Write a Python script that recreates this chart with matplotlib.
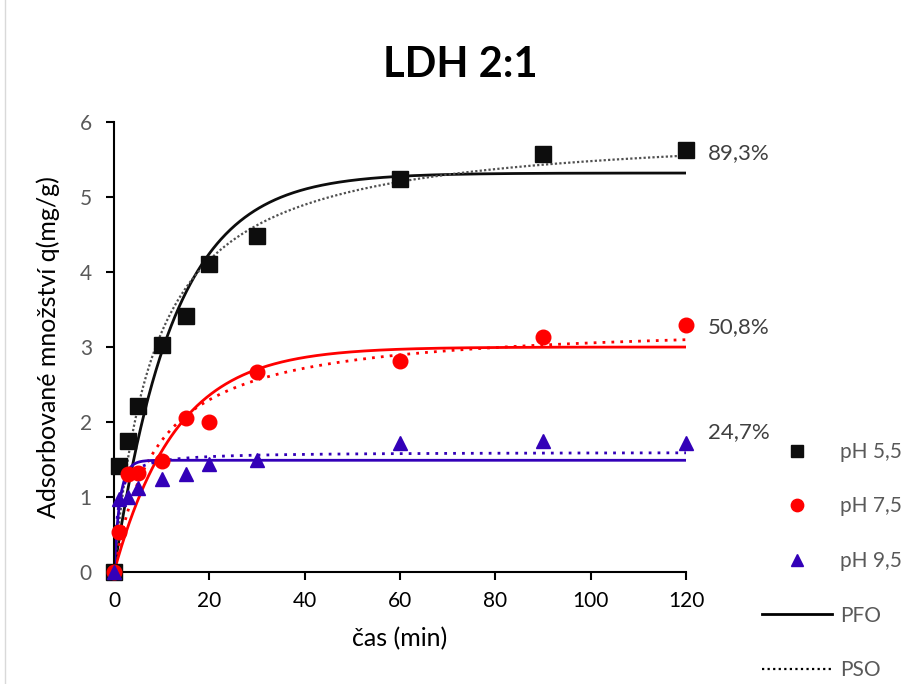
import numpy as np
import matplotlib.pyplot as plt
from matplotlib.lines import Line2D

plt.rcParams['font.family'] = ['Lato', 'DejaVu Sans']

# measured points
cas = [0, 1, 3, 5, 10, 15, 20, 30, 60, 90, 120]
q_ph55 = [0, 1.41, 1.75, 2.21, 3.03, 3.41, 4.11, 4.48, 5.24, 5.57, 5.63]
q_ph75 = [0, 0.53, 1.31, 1.32, 1.48, 2.05, 2.00, 2.67, 2.81, 3.13, 3.29]
q_ph95 = [0, 0.97, 1.00, 1.12, 1.24, 1.31, 1.44, 1.49, 1.72, 1.75, 1.72]

# fit parameters: PFO (qe, k1), PSO (qe, h = 1/(qe*k2))
pfo = {'pH 5,5': (5.32, 0.080), 'pH 7,5': (3.00, 0.077), 'pH 9,5': (1.49, 0.80)}
pso = {'pH 5,5': (5.95, 8.6), 'pH 7,5': (3.33, 9.0), 'pH 9,5': (1.60, 0.8)}

odstranenie = ['89,3%', '50,8%', '24,7%']
popis_y = [5.59, 3.27, 1.87]

serie = [('pH 5,5', q_ph55, '#0d0d0d', 's', 11),
         ('pH 7,5', q_ph75, '#ff0000', 'o', 10.5),
         ('pH 9,5', q_ph95, '#3300b8', '^', 10)]

fig = plt.figure(figsize=(9.02, 6.84), dpi=100)
ax = fig.add_axes([0.1264, 0.1637, 0.6341, 0.6579])

t = np.linspace(0, 120, 600)
for name, q, col, mk, ms in serie:
    qe, k = pfo[name]
    ax.plot(t, qe * (1 - np.exp(-k * t)), color=col, lw=2, zorder=2)
    qe2, h = pso[name]
    if name == 'pH 5,5':
        ax.plot(t, qe2 * t / (h + t), color='#505050', lw=1.6, ls=(0, (1, 1)), zorder=2)
    else:
        ax.plot(t, qe2 * t / (h + t), color=col, lw=2, ls=(0, (1, 2.2)), zorder=2)
    ax.plot(cas, q, ls='none', marker=mk, color=col, ms=ms, clip_on=False, zorder=3)

for txt, yy in zip(odstranenie, popis_y):
    ax.text(124.6, yy, txt, fontsize=16, color='#404040', va='center', ha='left')

ax.set_xlim(0, 120)
ax.set_ylim(0, 6)
ax.set_xticks(range(0, 121, 20))
ax.set_yticks(range(0, 7))
for s in ['top', 'right']:
    ax.spines[s].set_visible(False)
for s in ['left', 'bottom']:
    ax.spines[s].set_linewidth(1.5)
    ax.spines[s].set_color('black')
ax.tick_params(axis='both', direction='out', length=6, width=1.5, labelsize=15)
ax.tick_params(axis='y', labelcolor='#595959', pad=10)
ax.tick_params(axis='x', labelcolor='black', pad=8)

ax.set_xlabel('čas (min)', fontsize=18, labelpad=11)
ax.set_ylabel('Adsorbované množství q(mg/g)', fontsize=18, labelpad=14)
fig.text(0.51, 0.905, 'LDH 2:1', fontsize=30, fontweight='bold', ha='center', va='center')

handles = [Line2D([], [], ls='none', marker=mk, color=col, ms=ms * 0.85) for _, _, col, mk, ms in serie]
handles += [Line2D([], [], color='black', lw=2),
            Line2D([], [], color='black', lw=1.6, ls=(0, (1, 1.5)))]
labels = [s[0] for s in serie] + ['PFO', 'PSO']
leg = fig.legend(handles, labels, loc='upper left', bbox_to_anchor=(0.845, 0.354),
                 frameon=False, fontsize=15, handlelength=3.35, handletextpad=0.4,
                 labelspacing=1.66, borderaxespad=0, borderpad=0)
for tx in leg.get_texts():
    tx.set_color('#595959')

fig.add_artist(Line2D([0.006, 0.006], [0, 1], transform=fig.transFigure, color='#d9d9d9', lw=1))

fig.savefig('out.png', dpi=100)
